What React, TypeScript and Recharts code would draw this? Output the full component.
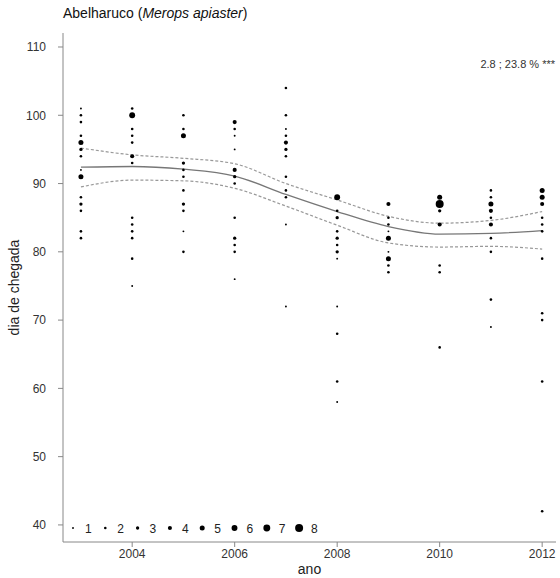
import { ComposedChart, Line, Scatter, XAxis, YAxis, Label } from "recharts"

const years = [2003, 2004, 2005, 2006, 2007, 2008, 2009, 2010, 2011, 2012]

// arrival day of year per season, and how many records fell on that day
const arrivalDays = [
  [101, 100, 99, 97, 96, 95, 94, 92, 91, 88, 87, 86, 83, 82],
  [101, 100, 98, 97, 96, 94, 93, 85, 84, 83, 82, 79, 75],
  [100, 98, 97, 93, 92, 91, 89, 87, 86, 83, 80],
  [99, 98, 97, 95, 92, 91, 90, 85, 82, 81, 80, 76],
  [104, 100, 98, 97, 96, 95, 94, 91, 89, 88, 84, 72],
  [88, 86, 85, 83, 82, 81, 80, 79, 72, 68, 61, 58],
  [87, 85, 84, 83, 82, 80, 79, 78, 77],
  [88, 87, 86, 84, 78, 77, 66],
  [89, 88, 87, 86, 85, 84, 82, 80, 73, 69],
  [89, 88, 87, 85, 84, 83, 79, 71, 70, 61, 42],
]
const arrivalCounts = [
  [1, 2, 2, 2, 5, 3, 2, 1, 5, 2, 3, 2, 2, 2],
  [2, 6, 2, 2, 2, 4, 2, 2, 2, 2, 2, 2, 1],
  [2, 2, 5, 3, 2, 2, 2, 3, 2, 1, 2],
  [4, 2, 1, 1, 4, 3, 2, 2, 3, 2, 2, 1],
  [2, 2, 1, 2, 4, 3, 2, 2, 2, 2, 1, 1],
  [6, 2, 3, 2, 3, 2, 3, 1, 1, 2, 2, 1],
  [4, 2, 2, 1, 5, 1, 5, 2, 2],
  [5, 8, 3, 4, 2, 2, 2],
  [2, 2, 5, 4, 2, 4, 2, 2, 2, 1],
  [5, 5, 4, 2, 2, 2, 2, 2, 2, 2, 2],
]

// smoothed trend and its confidence band, read at each year
const fitMid = [92.4, 92.5, 92.1, 91.1, 88.4, 85.9, 83.7, 82.6, 82.7, 83.1]
const fitUpper = [95.2, 94.2, 93.7, 92.9, 90.0, 87.6, 85.2, 84.2, 84.6, 85.9]
const fitLower = [89.5, 90.5, 90.4, 89.3, 86.7, 83.9, 81.3, 80.7, 80.8, 80.4]

const legendCounts = [1, 2, 3, 4, 5, 6, 7, 8]
const yTicks = [40, 50, 60, 70, 80, 90, 100, 110]
const xTicks = [2004, 2006, 2008, 2010, 2012]

const radius = [0.95, 1.3, 1.65, 2.05, 2.5, 2.95, 3.45, 4]
const font = "'Liberation Sans', Arial, sans-serif"

const curveData = years.map((year, i) => ({
  year,
  fit: fitMid[i],
  upper: fitUpper[i],
  lower: fitLower[i],
}))

const points = years.flatMap((year, i) =>
  arrivalDays[i].map((day, j) => ({ year, day, n: arrivalCounts[i][j] }))
)

const Dot = (props: any) => {
  const { cx, cy, payload } = props
  return <circle cx={cx} cy={cy} r={radius[payload.n - 1]} fill="#000" />
}

const SizeLegend = () => (
  <svg width={270} height={18} style={{ position: "absolute", left: 66, top: 519 }}>
    {legendCounts.map((n, i) => (
      <g key={n}>
        <circle cx={7 + i * 32.3} cy={9} r={radius[n - 1]} fill="#000" />
        <text x={19 + i * 32.3} y={13.5} fontSize={12} fill="#222" fontFamily={font}>
          {n}
        </text>
      </g>
    ))}
  </svg>
)

export default function App() {
  return (
    <div style={{ position: "absolute", left: 0, top: 0, width: 560, height: 578, background: "#fff" }}>
      <div
        style={{
          position: "absolute",
          left: 63,
          top: 5,
          fontFamily: font,
          fontSize: 14,
          color: "#111",
          zIndex: 2,
        }}
      >
        Abelharuco (<i>Merops apiaster</i>)
      </div>
      <div
        style={{
          position: "absolute",
          right: 5,
          top: 58,
          fontFamily: font,
          fontSize: 11,
          color: "#333",
          zIndex: 2,
        }}
      >
        2.8 ; 23.8 % ***
      </div>
      <ComposedChart
        width={560}
        height={578}
        data={curveData}
        margin={{ top: 33, right: 4, bottom: 0, left: 0 }}
      >
        <XAxis
          type="number"
          dataKey="year"
          domain={[2002.65, 2012.27]}
          ticks={xTicks}
          allowDataOverflow
          height={36}
          stroke="#888"
          tickSize={5}
          tickMargin={2}
          tick={{ fill: "#333", fontSize: 12, fontFamily: font }}
        >
          <Label value="ano" position="insideBottom" offset={4} fill="#222" fontSize={14} fontFamily={font} />
        </XAxis>
        <YAxis
          type="number"
          dataKey="day"
          domain={[37.5, 112.05]}
          ticks={yTicks}
          allowDataOverflow
          width={63}
          stroke="#888"
          tickSize={5}
          tickMargin={12}
          tick={{ fill: "#333", fontSize: 12, fontFamily: font }}
        >
          <Label
            value="dia de chegada"
            angle={-90}
            position="insideLeft"
            offset={14}
            fill="#222"
            fontSize={14}
            fontFamily={font}
            style={{ textAnchor: "middle" }}
          />
        </YAxis>
        <Line
          dataKey="upper"
          type="monotone"
          stroke="#999"
          strokeWidth={1.2}
          strokeDasharray="3 2"
          dot={false}
          activeDot={false}
          isAnimationActive={false}
        />
        <Line
          dataKey="lower"
          type="monotone"
          stroke="#999"
          strokeWidth={1.2}
          strokeDasharray="3 2"
          dot={false}
          activeDot={false}
          isAnimationActive={false}
        />
        <Line
          dataKey="fit"
          type="monotone"
          stroke="#777"
          strokeWidth={1.3}
          dot={false}
          activeDot={false}
          isAnimationActive={false}
        />
        <Scatter data={points} dataKey="day" shape={Dot} isAnimationActive={false} />
      </ComposedChart>
      <SizeLegend />
    </div>
  )
}
